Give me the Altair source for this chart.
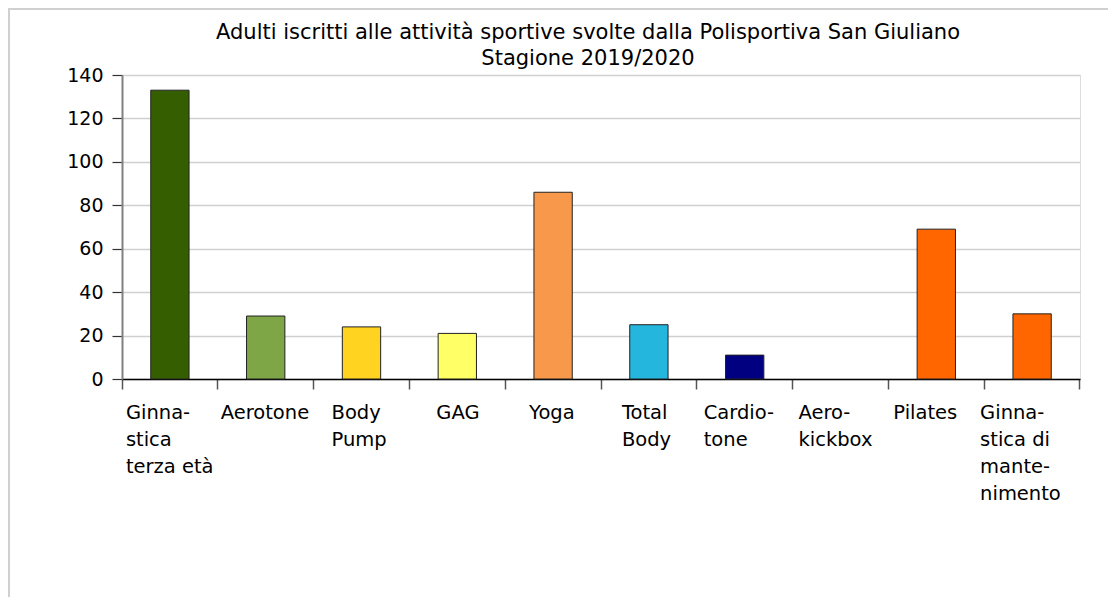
import altair as alt
import pandas as pd

# Data
labels = [
    "Ginna-|stica|terza età",
    "Aerotone",
    "Body|Pump",
    "GAG",
    "Yoga",
    "Total|Body",
    "Cardio-|tone",
    "Aero-|kickbox",
    "Pilates",
    "Ginna-|stica di|mante-|nimento",
]
values = [133, 29, 24, 21, 86, 25, 11, 0, 69, 30]
colors = [
    "#355E00", "#7EA646", "#FFD320", "#FFFF66", "#F7984A",
    "#24B6DC", "#000080", "#B0B0B0", "#FF6600", "#FF6600",
]
y_ticks = [0, 20, 40, 60, 80, 100, 120, 140]
title_lines = [
    "Adulti iscritti alle attività sportive svolte dalla Polisportiva San Giuliano",
    "Stagione 2019/2020",
]

# style: shift of each left-aligned label block from its band centre (px)
label_shift = [-44, -45, -30, -21, -24, -27, -41, -42, -43, -52]

FONT = "DejaVu Sans"

df = pd.DataFrame({"cat": labels, "val": values})

offset_conditions = [
    {"test": f"datum.value === '{lab}'", "value": s}
    for lab, s in zip(labels, label_shift)
]

bars = alt.Chart(df).mark_bar(
    width=alt.RelativeBandSize(0.4), stroke="#222222", strokeWidth=1
).encode(
    x=alt.X(
        "cat:N",
        sort=None,
        title=None,
        scale=alt.Scale(paddingInner=0, paddingOuter=0),
        axis=alt.Axis(
            labelExpr="split(datum.label, '|')",
            labelAngle=0,
            labelAlign="left",
            labelBaseline="top",
            labelLineHeight=27,
            labelFont=FONT,
            labelFontSize=19.5,
            labelColor="#000000",
            labelPadding=14,
            labelOffset={"condition": offset_conditions, "value": 0},
            bandPosition=1,
            tickExtra=True,
            tickSize=10,
            tickColor="#555555",
            tickWidth=1.5,
            domainColor="#000000",
            domainWidth=1.5,
            grid=False,
        ),
    ),
    y=alt.Y(
        "val:Q",
        title=None,
        scale=alt.Scale(domain=[0, 140], nice=False),
        axis=alt.Axis(
            values=y_ticks,
            labelFont=FONT,
            labelFontSize=19,
            labelColor="#000000",
            labelPadding=9,
            tickSize=10,
            tickColor="#333333",
            tickWidth=1.2,
            domainColor="#808080",
            domainWidth=2,
            gridColor="#d0d0d0",
            gridWidth=1.5,
        ),
    ),
    color=alt.Color(
        "cat:N",
        sort=None,
        scale=alt.Scale(domain=labels, range=colors),
        legend=None,
    ),
    strokeOpacity=alt.condition(alt.datum.val > 0, alt.value(1), alt.value(0)),
)

frame_df = pd.DataFrame({"k": [0]})
frame_left = alt.Chart(frame_df).mark_rule(color="#d0d0d0", strokeWidth=2).encode(
    x=alt.value(-113), y=alt.value(-67), y2=alt.value(530)
)
frame_top = alt.Chart(frame_df).mark_rule(color="#d0d0d0", strokeWidth=2).encode(
    x=alt.value(-114), x2=alt.value(990), y=alt.value(-66)
)
title = alt.Chart(frame_df).mark_text(
    text=title_lines,
    font=FONT,
    fontSize=21,
    color="#000000",
    align="center",
    baseline="top",
    lineHeight=26,
).encode(x=alt.value(466), y=alt.value(-53))

chart = alt.layer(frame_left, frame_top, bars, title).properties(
    width=958,
    height=304,
    autosize=alt.AutoSizeParams(type="none"),
    padding={"left": 114, "top": 67, "right": 28, "bottom": 218},
).configure_view(
    stroke="#c4c4c4", strokeWidth=1.5
).configure(background="#ffffff")

chart.save("out.html", embed_options={"renderer": "svg", "actions": False})
